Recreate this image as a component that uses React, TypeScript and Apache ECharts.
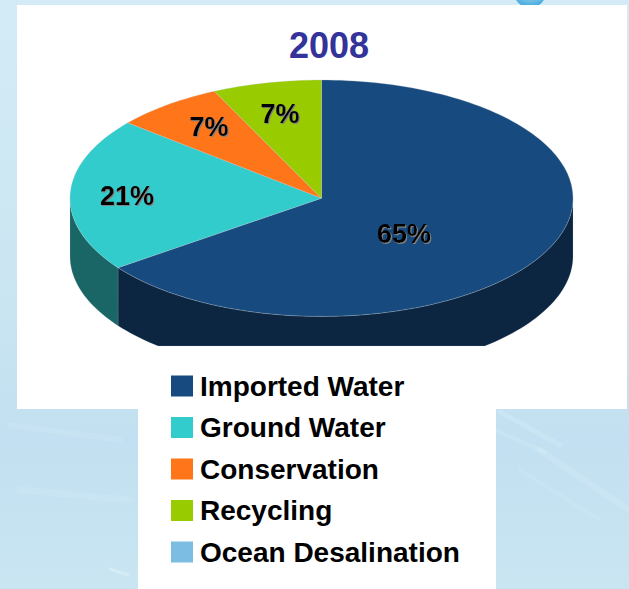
import React, { useEffect, useRef } from "react";
import * as echarts from "echarts";

const categories = ["Imported Water", "Ground Water", "Conservation", "Recycling", "Ocean Desalination"];
const values = [65, 21, 7, 7, 0];
const topColors = ["#174A7E", "#33CCCC", "#FF7519", "#99CC00", "#7BBDE3"];
const sideColors = ["#0C2642", "#1A6666", "#803B0D", "#4D6600", "#3E5F72"];
const titleText = "2008";

// layout of the tilted disc
const CX = 321.5;
const CY = 198.2;
const RX = 251.5;
const RY = 118.2;
const DEPTH = 58;
const CLIP_Y = 346;
const FONT = "'Liberation Sans', Arial, sans-serif";
const labelAnchors = [
  [404, 234],
  [127, 196],
  [209, 127],
  [280, 114],
  [0, 0],
];

const total = values.reduce((a, b) => a + b, 0);

function arcPoints(f0: number, f1: number, dy: number) {
  const n = Math.max(2, Math.ceil((f1 - f0) * 240));
  const pts: number[][] = [];
  for (let i = 0; i <= n; i++) {
    const a = (f0 + ((f1 - f0) * i) / n) * Math.PI * 2;
    pts.push([CX + RX * Math.sin(a), Math.min(CY - RY * Math.cos(a) + dy, CLIP_Y)]);
  }
  return pts;
}

function makeRender(index: number) {
  return () => {
    const value = values[index];
    if (!value) return { type: "group", children: [] };
    const before = values.slice(0, index).reduce((a, b) => a + b, 0);
    const f0 = before / total;
    const f1 = (before + value) / total;
    const children: any[] = [];
    const s0 = Math.max(f0, 0.25);
    const s1 = Math.min(f1, 0.75);
    if (s1 > s0) {
      const top = arcPoints(s0, s1, 0);
      const bottom = arcPoints(s0, s1, DEPTH).reverse();
      children.push({
        type: "polygon",
        shape: { points: top.concat(bottom) },
        style: { fill: sideColors[index], stroke: "rgba(190,200,210,0.35)", lineWidth: 0.5 },
      });
    }
    children.push({
      type: "polygon",
      shape: { points: [[CX, CY], ...arcPoints(f0, f1, 0)] },
      style: { fill: topColors[index], stroke: "rgba(190,200,210,0.55)", lineWidth: 0.5 },
    });
    children.push({
      type: "text",
      z2: 10,
      style: {
        text: value + "%",
        x: labelAnchors[index][0],
        y: labelAnchors[index][1],
        align: "center",
        verticalAlign: "middle",
        font: `bold 27px ${FONT}`,
        fill: "#000000",
        textShadowColor: "rgba(130,130,130,1)",
        textShadowOffsetX: 1,
        textShadowOffsetY: 1,
        textShadowBlur: 1,
      },
    });
    return { type: "group", children };
  };
}

const streak = (x1: number, y1: number, x2: number, y2: number, w: number, o: number) => ({
  type: "line",
  shape: { x1, y1, x2, y2 },
  style: { stroke: `rgba(225,243,250,${o})`, lineWidth: w, lineCap: "round" },
  silent: true,
});

function buildOption() {
  return {
    animation: false,
    title: {
      text: titleText,
      left: 289,
      top: 27,
      padding: 0,
      textStyle: { fontFamily: FONT, fontWeight: "bold", fontSize: 36, color: "#333399" },
    },
    legend: {
      orient: "vertical",
      left: 171,
      top: 372,
      padding: 0,
      icon: "rect",
      itemWidth: 22,
      itemHeight: 21,
      itemGap: 13.5,
      selectedMode: false,
      data: categories,
      textStyle: {
        fontFamily: FONT,
        fontWeight: "bold",
        fontSize: 28,
        color: "#000000",
        padding: [0, 0, 0, 2],
      },
    },
    graphic: [
      {
        type: "rect",
        shape: { x: 0, y: 0, width: 629, height: 589 },
        style: {
          fill: new echarts.graphic.LinearGradient(0, 0, 0, 1, [
            { offset: 0, color: "#D3EBF6" },
            { offset: 0.45, color: "#CBE6F2" },
            { offset: 0.75, color: "#C2E0F1" },
            { offset: 1, color: "#C9E5F2" },
          ]),
        },
        silent: true,
      },
      streak(500, 412, 560, 445, 5, 0.25),
      streak(495, 430, 545, 452, 4, 0.2),
      streak(540, 450, 629, 510, 6, 0.22),
      streak(520, 470, 600, 520, 4, 0.15),
      streak(10, 425, 120, 440, 6, 0.15),
      streak(20, 490, 130, 500, 7, 0.15),
      streak(110, 569, 128, 575, 3, 0.5),
      {
        type: "circle",
        shape: { cx: 530, cy: -8, r: 16 },
        style: {
          fill: new echarts.graphic.RadialGradient(0.5, 0.3, 0.7, [
            { offset: 0, color: "#E6F6FC" },
            { offset: 1, color: "#3AA5DC" },
          ]),
        },
        silent: true,
      },
      {
        type: "rect",
        shape: { x: 17, y: 5, width: 610, height: 404 },
        style: { fill: "#FFFFFF" },
        silent: true,
      },
      {
        type: "rect",
        shape: { x: 138, y: 409, width: 358, height: 180 },
        style: { fill: "#FFFFFF" },
        silent: true,
      },
    ],
    series: categories.map((name, i) => ({
      type: "custom",
      name,
      coordinateSystem: "none",
      silent: true,
      clip: false,
      itemStyle: { color: topColors[i] },
      data: [values[i]],
      renderItem: makeRender(i),
    })),
  };
}

export default function App() {
  const ref = useRef<HTMLDivElement>(null);
  useEffect(() => {
    document.body.style.margin = "0";
    const chart = echarts.init(ref.current!, null, { renderer: "svg" });
    chart.setOption(buildOption() as any);
    return () => chart.dispose();
  }, []);
  return <div ref={ref} style={{ position: "absolute", left: 0, top: 0, width: 629, height: 589 }} />;
}
